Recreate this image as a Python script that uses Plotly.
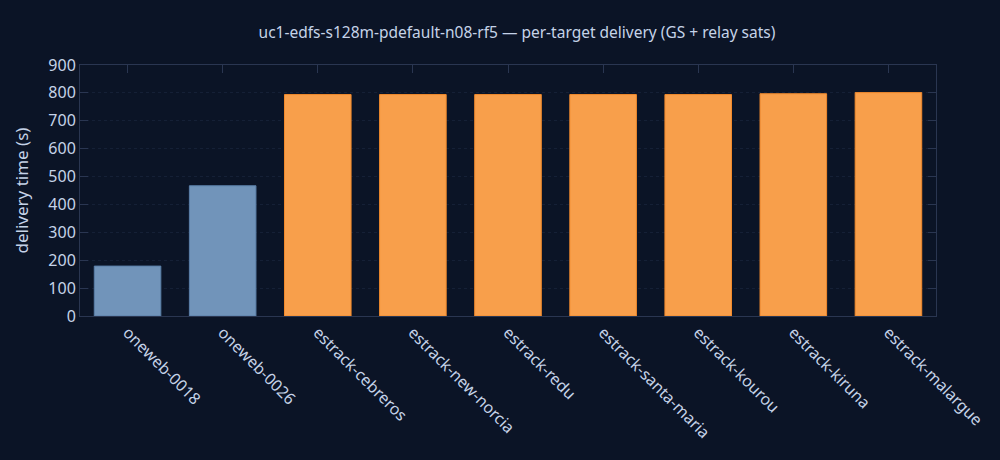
import plotly.graph_objects as go

targets = ['oneweb-0018', 'oneweb-0026', 'estrack-cebreros', 'estrack-new-norcia',
           'estrack-redu', 'estrack-santa-maria', 'estrack-kourou', 'estrack-kiruna',
           'estrack-malargue']
delivery_s = [179, 467, 794, 794, 794, 794, 794, 797, 801]
kind = ['sat', 'sat', 'gs', 'gs', 'gs', 'gs', 'gs', 'gs', 'gs']

fill = {'sat': '#7194ba', 'gs': '#f89f4b'}
edge = {'sat': '#5a7fa8', 'gs': '#f28a2c'}

bg = '#0b1426'
txt = '#c5d3e8'
grid = '#152036'

fig = go.Figure(go.Bar(
    x=targets,
    y=delivery_s,
    marker=dict(color=[fill[k] for k in kind],
                line=dict(color=[edge[k] for k in kind], width=1)),
    showlegend=False,
))

fig.update_layout(
    width=1000, height=460,
    paper_bgcolor=bg, plot_bgcolor=bg,
    font=dict(family='Noto Sans', size=14, color=txt),
    title=dict(text='uc1-edfs-s128m-pdefault-n08-rf5 \u2014 per-target delivery (GS + relay sats)',
               x=0.517, xanchor='center', y=1 - 33 / 460, yanchor='middle',
               font=dict(size=15.5, color=txt)),
    margin=dict(l=80, r=62, t=65, b=144),
    bargap=0.3,
)
fig.update_xaxes(tickangle=45, tickfont_size=16, showline=True, linecolor='#2a3651',
                 mirror='ticks', ticks='inside', ticklen=8, tickcolor='#2a3651',
                 layer='below traces', showgrid=False)
fig.update_yaxes(range=[0, 900], dtick=100, tickfont_size=16, title_text='delivery time (s)',
                 showline=True, linecolor='#2a3651', mirror='ticks',
                 ticks='inside', ticklen=8, tickcolor='#2a3651', layer='below traces',
                 gridcolor=grid, griddash='dot', zeroline=False)

# page has no body margin so the figure fills the window
fig.write_html("out.html", config={'displayModeBar': False},
               post_script="document.body.style.margin='0';")
